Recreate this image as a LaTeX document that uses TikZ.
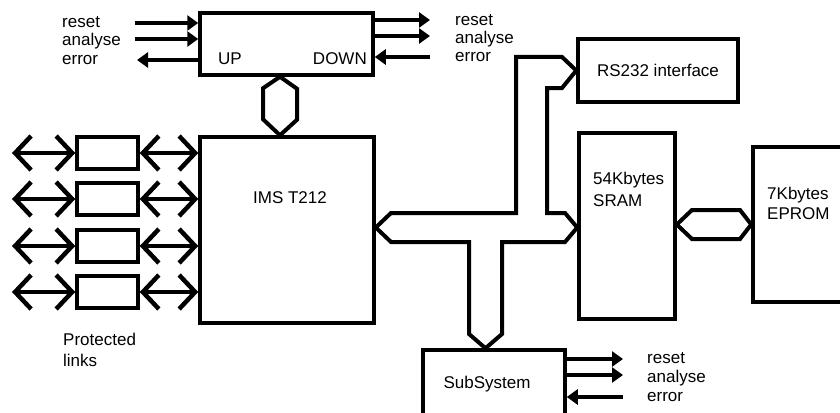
\documentclass[tikz,border=0pt]{standalone}
\usepackage{fontspec}
\setmainfont{Liberation Sans}
\usetikzlibrary{arrows.meta}

\begin{document}
\begin{tikzpicture}[x=1pt, y=-1pt,
    blk/.style={draw, line width=3.5pt, inner sep=0pt},
    txt/.style={font=\fontsize{17pt}{18.5pt}\selectfont, inner sep=0pt, align=left},
    sig/.style={line width=3.5pt, -{Triangle[length=11pt, width=15pt]}},
    lnk/.style={line width=3.5pt, {Straight Barb[length=16pt, width=34pt, line width=4.5pt]}-{Straight Barb[length=16pt, width=34pt, line width=4.5pt]}},
    bus/.style={draw, line width=4pt, fill=white, line join=miter}]
    \useasboundingbox (0,0) rectangle (840,412);
    \clip (0,0) rectangle (840,412);

    % Supervisor box
    \node[blk, minimum width=173pt, minimum height=62pt] (sup) at (286.5,44) {};
    \node[txt, anchor=base west] (up) at (218,65) {UP};
    \node[txt, anchor=base east] (down) at (367,65) {DOWN};

    % Signals on the left of the supervisor
    \coordinate (rin) at (135,23);
    \coordinate (ain) at (135,39);
    \coordinate (eout) at (137,60);
    \draw[sig] (rin) -- (rin -| sup.west);
    \draw[sig] (ain) -- (ain -| sup.west);
    \draw[sig] (eout -| sup.west) -- (eout);
    \node[txt, anchor=base west] (siglblA) at (62,64.5) {reset\\analyse\\error};

    % Signals on the right of the supervisor
    \coordinate (rout) at (430,20);
    \coordinate (aout) at (430,36);
    \coordinate (ein) at (430,57);
    \draw[sig] (rout -| sup.east) -- (rout);
    \draw[sig] (aout -| sup.east) -- (aout);
    \draw[sig] (ein) -- (ein -| sup.east);
    \node[txt, anchor=base west, font=\fontsize{17pt}{18pt}\selectfont] (siglblB) at (455,61.5) {reset\\analyse\\error};

    % Transputer
    \node[blk, minimum width=174pt, minimum height=186pt] (cpu) at (287,230) {};
    \node[txt, anchor=base] (cpulbl) at (290,203) {IMS T212};

    % Protected links
    \foreach \y [count=\i] in {153,199,246,292} {
        \node[blk, minimum width=61pt, minimum height=32pt] (lnk\i) at (107.5,\y) {};
        \coordinate (lend\i) at (12,\y);
        \draw[lnk] (lend\i) -- (lnk\i.west);
        \draw[lnk] (lnk\i.east) -- (lnk\i.east -| cpu.west);
    }
    \node[txt, anchor=north west, font=\fontsize{17pt}{21pt}\selectfont] (plbl) at (63,333) {Protected\\links};

    % Other blocks
    \node[blk, txt, minimum width=160pt, minimum height=63pt] (rs) at (658,70.5) {RS232 interface};
    \node[blk, minimum width=96pt, minimum height=186pt] (sram) at (627,226) {};
    \node[txt, anchor=base west, font=\fontsize{17pt}{21.7pt}\selectfont] (sramlbl) at (593,206) {54Kbytes\\SRAM};
    \node[blk, minimum width=120pt, minimum height=155pt] (eprom) at (813,224.5) {};
    \node[txt, anchor=base west, font=\fontsize{17pt}{20pt}\selectfont] (epromlbl) at (767,219) {7Kbytes\\EPROM};
    \node[blk, minimum width=142pt, minimum height=90pt] (sub) at (494,395) {};
    \node[txt, anchor=base] (sublbl) at (487,388) {SubSystem};

    % Signals of the subsystem
    \coordinate (rsub) at (623,359);
    \coordinate (asub) at (623,375);
    \coordinate (esub) at (623,397);
    \draw[sig] (rsub -| sub.east) -- (rsub);
    \draw[sig] (asub -| sub.east) -- (asub);
    \draw[sig] (esub) -- (esub -| sub.east);
    \node[txt, anchor=base west, font=\fontsize{17pt}{19pt}\selectfont] (siglblC) at (647,401.5) {reset\\analyse\\error};

    % Buses
    \coordinate (hx) at (280,0);
    \coordinate (tb) at (0,227.5);
    \coordinate (te) at (0,224.5);
    \coordinate (sx) at (485.5,0);
    \draw[bus] (hx |- sup.south) -- ++(17,12) -- ++(0,31) -- (hx |- cpu.north)
        -- ++(-17,-16) -- ++(0,-31) -- cycle;
    \draw[bus] (cpu.east |- tb) -- (391,213) -- (516,213) -- (516,57) -- (562,57)
        -- (rs.west) -- (562,88) -- (547,88) -- (547,213) -- (565,213)
        -- (sram.west |- tb) -- (565,242) -- (502,242) -- (502,334)
        -- (sx |- sub.north) -- (469,334) -- (469,242) -- (391,242) -- cycle;
    \draw[bus] (sram.east |- te) -- (692,210) -- (740,210) -- (eprom.west |- te)
        -- (740,239) -- (692,239) -- cycle;
\end{tikzpicture}
\end{document}
